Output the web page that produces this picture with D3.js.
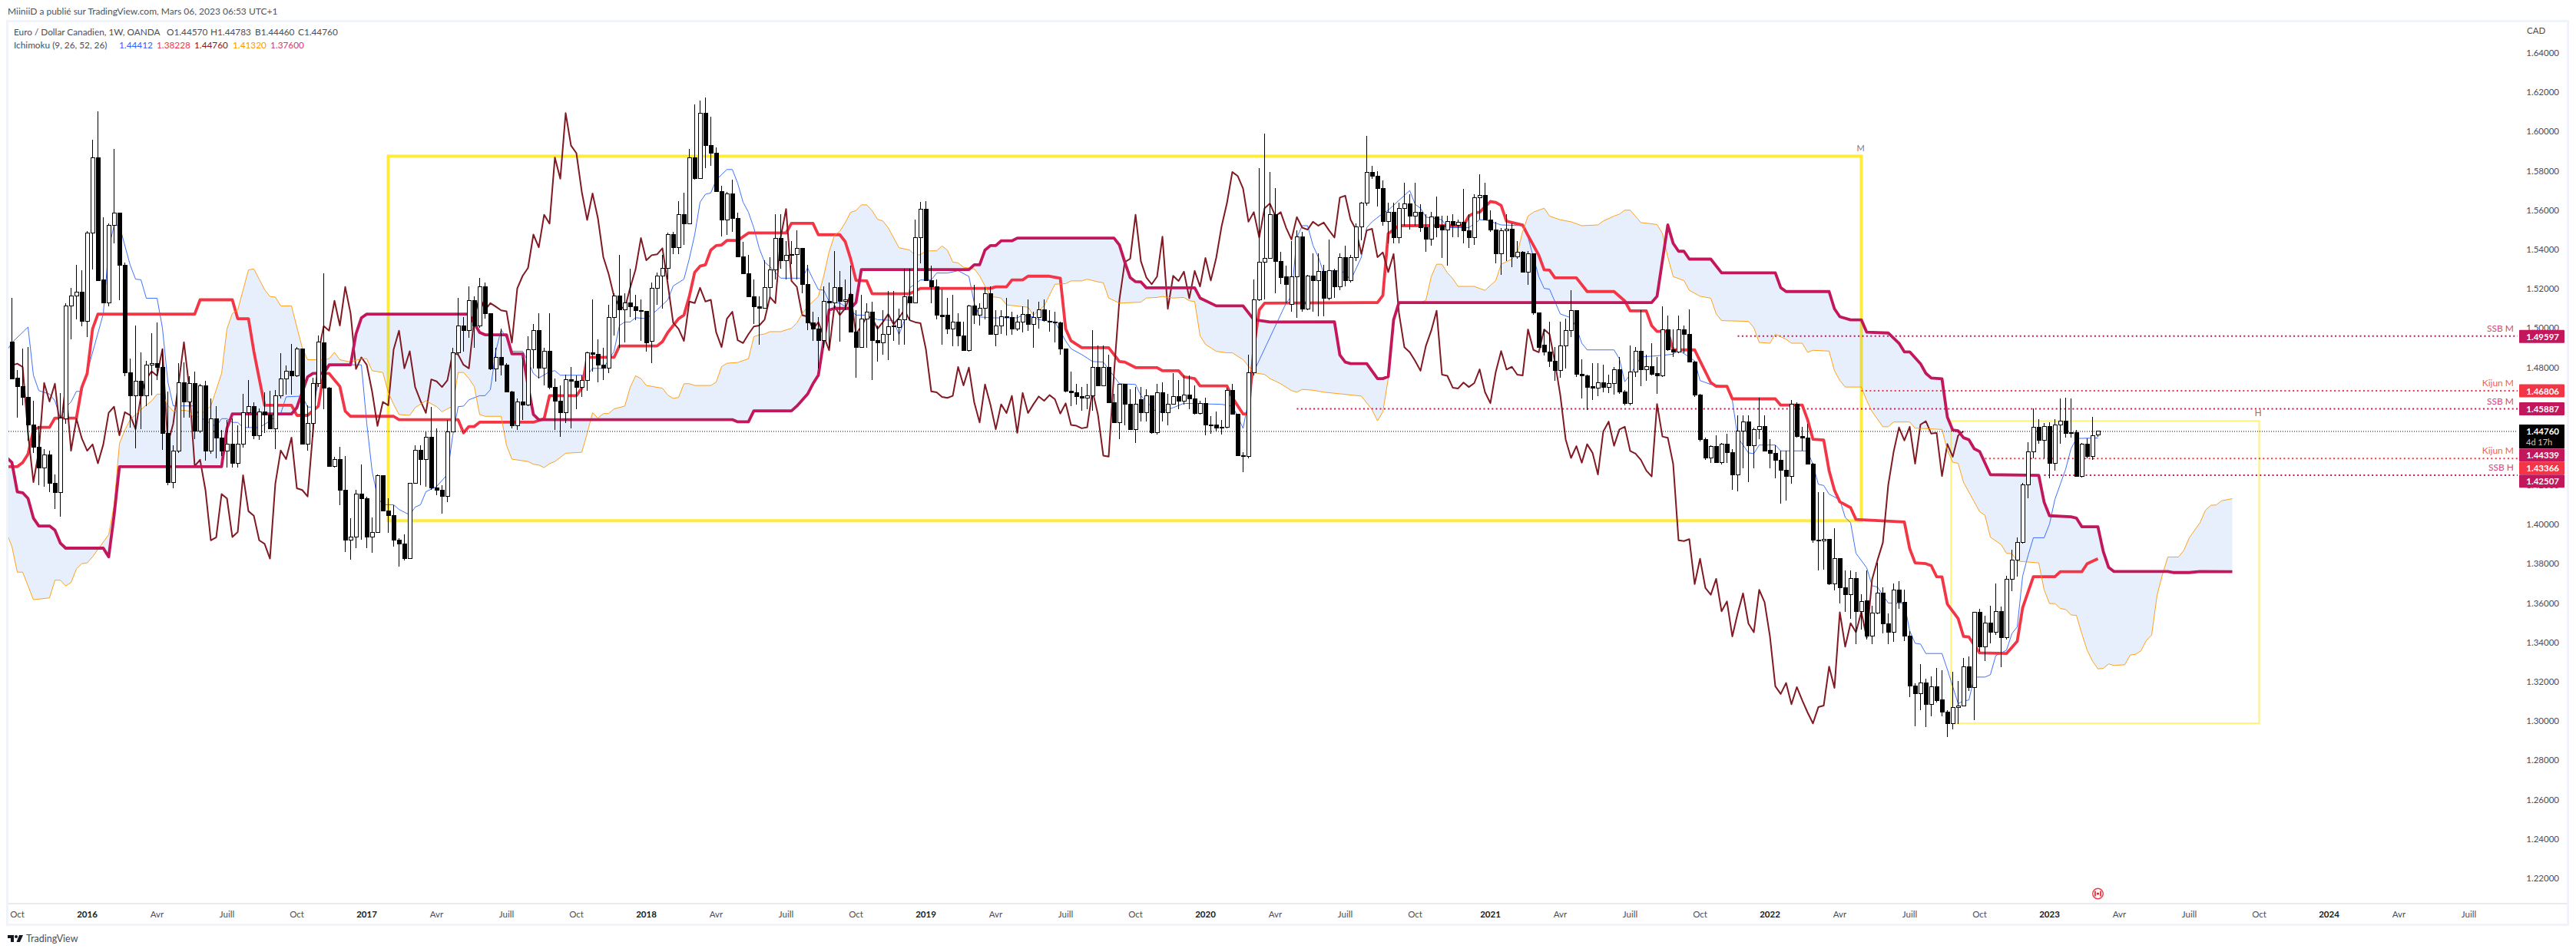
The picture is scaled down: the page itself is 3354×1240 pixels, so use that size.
<!DOCTYPE html>
<html lang="fr">
<head>
<meta charset="utf-8">
<title>EUR/CAD 1W Ichimoku</title>
<script src="https://cdn.jsdelivr.net/npm/d3@7"></script>
<style>
html,body{margin:0;padding:0;background:#fff;overflow:hidden}
svg{display:block}
text{font-family:Lato,"Open Sans",sans-serif}
</style>
</head>
<body>
<div id="chart"></div>
<script>
const opens=[1.4930,1.4745,1.4702,1.4647,1.4506,1.4394,1.4290,1.4354,1.4211,1.4162,
1.4539,1.5112,1.5163,1.5184,1.5033,1.5483,1.5867,1.5245,1.5130,1.5522,
1.5586,1.5318,1.4771,1.4654,1.4728,1.4654,1.4810,1.4819,1.4802,1.4464,
1.4216,1.4374,1.4721,1.4626,1.4717,1.4474,1.4707,1.4376,1.4538,1.4441,
1.4376,1.4408,1.4312,1.4408,1.4569,1.4600,1.4454,1.4572,1.4556,1.4486,
1.4654,1.4741,1.4780,1.4757,1.4893,1.4411,1.4513,1.4717,1.4926,1.4694,
1.4298,1.4330,1.4176,1.3920,1.3935,1.4155,1.4133,1.3937,1.3962,1.4251,
1.4068,1.4045,1.3920,1.3902,1.3827,1.4209,1.4377,1.4333,1.4443,1.4185,
1.4176,1.4143,1.4473,1.4874,1.5010,1.4987,1.5139,1.5013,1.5209,1.5074,
1.4792,1.4851,1.4813,1.4677,1.4502,1.4624,1.4607,1.4891,1.4987,1.4795,
1.4882,1.4700,1.4630,1.4568,1.4739,1.4729,1.4700,1.4734,1.4874,1.4865,
1.4813,1.4795,1.5053,1.5162,1.5092,1.5127,1.5109,1.5090,1.5085,1.4931,
1.5202,1.5266,1.5306,1.5476,1.5411,1.5577,1.5532,1.5868,1.5760,1.6094,
1.5929,1.5890,1.5693,1.5550,1.5685,1.5559,1.5362,1.5275,1.5161,1.5109,
1.5100,1.5205,1.5298,1.5458,1.5345,1.5371,1.5375,1.5406,1.5224,1.5027,
1.4996,1.4935,1.5135,1.5127,1.5205,1.5135,1.5170,1.4978,1.4903,1.5048,
1.5083,1.4938,1.4924,1.4969,1.5008,1.5005,1.5043,1.5158,1.5127,1.5462,
1.5606,1.5240,1.5210,1.5066,1.5066,1.4995,1.5030,1.4960,1.4887,1.5113,
1.5066,1.5100,1.5175,1.4970,1.5010,1.5057,1.5053,1.4996,1.5030,1.5071,
1.5019,1.5053,1.5092,1.5036,1.5030,1.5025,1.4893,1.4678,1.4673,1.4650,
1.4645,1.4655,1.4802,1.4708,1.4799,1.4621,1.4520,1.4713,1.4612,1.4485,
1.4635,1.4568,1.4655,1.4467,1.4670,1.4568,1.4612,1.4652,1.4630,1.4659,
1.4638,1.4565,1.4617,1.4507,1.4507,1.4490,1.4495,1.4682,1.4560,1.4351,
1.4346,1.4773,1.5144,1.5336,1.5353,1.5577,1.5340,1.5262,1.5122,1.5262,
1.5465,1.5098,1.5266,1.5240,1.5287,1.5152,1.5291,1.5212,1.5357,1.5242,
1.5357,1.5517,1.5636,1.5794,1.5774,1.5710,1.5541,1.5590,1.5461,1.5610,
1.5634,1.5570,1.5590,1.5511,1.5451,1.5565,1.5521,1.5501,1.5541,1.5521,
1.5537,1.5497,1.5461,1.5664,1.5674,1.5551,1.5501,1.5377,1.5497,1.5505,
1.5361,1.5385,1.5285,1.5377,1.5076,1.4913,1.4877,1.4833,1.4783,1.4909,
1.4987,1.5088,1.4763,1.4757,1.4703,1.4693,1.4723,1.4700,1.4720,1.4790,
1.4674,1.4618,1.4777,1.4883,1.4789,1.4803,1.4767,1.4759,1.4993,1.4889,
1.4877,1.4993,1.4969,1.4827,1.4660,1.4434,1.4339,1.4399,1.4315,1.4409,
1.4365,1.4255,1.4474,1.4524,1.4401,1.4484,1.4498,1.4379,1.4361,1.4329,
1.4275,1.4245,1.4614,1.4448,1.4442,1.4309,1.3920,1.3916,1.3926,1.3700,
1.3826,1.3677,1.3643,1.3724,1.3559,1.3612,1.3431,1.3549,1.3650,1.3496,
1.3452,1.3668,1.3605,1.3431,1.3177,1.3138,1.3194,1.3086,1.3173,1.3107,
1.3044,1.2988,1.3071,1.3079,1.3277,1.3169,1.3554,1.3379,1.3498,1.3452,
1.3556,1.3424,1.3721,1.3819,1.3908,1.4201,1.4370,1.4494,1.4428,1.4498,
1.4310,1.4509,1.4526,1.4463,1.4467,1.4247,1.4410,1.4345,1.4457];

const highs=[1.5155,1.4786,1.4897,1.4904,1.4630,1.4500,1.4385,1.4376,1.4254,1.4670,
1.5128,1.5203,1.5320,1.5293,1.5492,1.5957,1.6103,1.5565,1.5531,1.5913,
1.5586,1.5333,1.4844,1.5014,1.4878,1.4835,1.4975,1.5027,1.4897,1.4678,
1.4403,1.4822,1.4826,1.4757,1.4780,1.4717,1.4731,1.4641,1.4604,1.4483,
1.4533,1.4540,1.4507,1.4667,1.4734,1.4624,1.4591,1.4672,1.4682,1.4685,
1.4871,1.4809,1.4921,1.4904,1.4893,1.4608,1.4747,1.4962,1.5280,1.4700,
1.4345,1.4394,1.4350,1.4031,1.4176,1.4307,1.4141,1.4037,1.4255,1.4251,
1.4133,1.4098,1.3932,1.3949,1.4209,1.4403,1.4403,1.4473,1.4600,1.4490,
1.4202,1.4534,1.4900,1.5153,1.5057,1.5214,1.5161,1.5257,1.5231,1.5074,
1.4900,1.4996,1.4821,1.4682,1.4642,1.4847,1.4957,1.5022,1.5075,1.4900,
1.5075,1.4743,1.4708,1.4764,1.4804,1.4760,1.4760,1.4882,1.5144,1.4943,
1.4900,1.5118,1.5179,1.5371,1.5179,1.5301,1.5170,1.5144,1.5085,1.5231,
1.5284,1.5371,1.5485,1.5490,1.5646,1.5688,1.5912,1.6138,1.6156,1.6173,
1.6077,1.5920,1.5723,1.5693,1.5754,1.5589,1.5440,1.5371,1.5249,1.5161,
1.5345,1.5362,1.5580,1.5580,1.5441,1.5441,1.5497,1.5406,1.5322,1.5083,
1.5057,1.5214,1.5231,1.5392,1.5292,1.5249,1.5319,1.5092,1.5170,1.5127,
1.5135,1.5013,1.5092,1.5188,1.5188,1.5100,1.5301,1.5301,1.5554,1.5641,
1.5645,1.5319,1.5249,1.5197,1.5153,1.5170,1.5074,1.5031,1.5118,1.5219,
1.5127,1.5210,1.5214,1.5092,1.5092,1.5153,1.5083,1.5066,1.5109,1.5144,
1.5083,1.5135,1.5144,1.5092,1.5083,1.5031,1.4893,1.4777,1.4717,1.4700,
1.4717,1.4990,1.4912,1.4912,1.4865,1.4664,1.4717,1.4717,1.4690,1.4700,
1.4700,1.4690,1.4655,1.4717,1.4725,1.4664,1.4769,1.4734,1.4760,1.4760,
1.4708,1.4630,1.4647,1.4551,1.4577,1.4534,1.4698,1.4717,1.4560,1.4368,
1.4865,1.5249,1.5815,1.5989,1.5793,1.5711,1.5388,1.5319,1.5441,1.5496,
1.5491,1.5271,1.5381,1.5381,1.5321,1.5451,1.5301,1.5381,1.5421,1.5371,
1.5531,1.5644,1.5979,1.5824,1.5800,1.5750,1.5640,1.5640,1.5640,1.5740,
1.5680,1.5740,1.5630,1.5581,1.5590,1.5670,1.5570,1.5570,1.5581,1.5551,
1.5710,1.5581,1.5680,1.5784,1.5740,1.5600,1.5541,1.5511,1.5581,1.5531,
1.5441,1.5391,1.5391,1.5377,1.5076,1.4992,1.5032,1.4903,1.5032,1.5048,
1.5192,1.5092,1.4843,1.4763,1.4823,1.4823,1.4813,1.4763,1.4803,1.4853,
1.4684,1.4913,1.4903,1.5092,1.4863,1.4923,1.4853,1.5112,1.5062,1.4993,
1.5062,1.5012,1.5096,1.4833,1.4664,1.4444,1.4405,1.4454,1.4415,1.4464,
1.4385,1.4554,1.4554,1.4554,1.4494,1.4644,1.4554,1.4435,1.4405,1.4375,
1.4375,1.4634,1.4624,1.4498,1.4514,1.4315,1.4165,1.4165,1.3926,1.3982,
1.3830,1.3766,1.3766,1.3759,1.3647,1.3766,1.3587,1.3807,1.3682,1.3549,
1.3699,1.3713,1.3668,1.3459,1.3194,1.3291,1.3215,1.3229,1.3271,1.3257,
1.3054,1.3250,1.3204,1.3323,1.3331,1.3554,1.3570,1.3535,1.3587,1.3699,
1.3584,1.3738,1.3874,1.3933,1.4212,1.4418,1.4593,1.4536,1.4516,1.4519,
1.4536,1.4640,1.4645,1.4642,1.4481,1.4414,1.4438,1.4550,1.44783];

const lows=[1.4743,1.4546,1.4607,1.4428,1.4363,1.4202,1.4194,1.4167,1.4080,1.4042,
1.4513,1.4943,1.5044,1.5008,1.4954,1.5298,1.5243,1.5128,1.5111,1.5431,
1.5142,1.4754,1.4494,1.4389,1.4487,1.4604,1.4656,1.4734,1.4380,1.4202,
1.4185,1.4363,1.4546,1.4546,1.4435,1.4467,1.4324,1.4361,1.4337,1.4350,
1.4290,1.4290,1.4290,1.4392,1.4494,1.4435,1.4431,1.4467,1.4486,1.4383,
1.4643,1.4663,1.4663,1.4750,1.4411,1.4376,1.4447,1.4702,1.4586,1.4298,
1.4290,1.4098,1.3862,1.3822,1.3880,1.3923,1.3880,1.3857,1.3958,1.4068,
1.3958,1.3888,1.3787,1.3819,1.3827,1.4209,1.4202,1.4194,1.4176,1.4150,
1.4054,1.4115,1.4473,1.4865,1.4882,1.4952,1.4900,1.5000,1.5048,1.4786,
1.4729,1.4760,1.4673,1.4490,1.4481,1.4534,1.4603,1.4795,1.4743,1.4708,
1.4690,1.4481,1.4446,1.4516,1.4490,1.4586,1.4650,1.4682,1.4778,1.4725,
1.4734,1.4769,1.4961,1.4900,1.4926,1.5057,1.5040,1.4935,1.4880,1.4821,
1.5118,1.5100,1.5249,1.5378,1.5378,1.5423,1.5528,1.5754,1.5760,1.5815,
1.5824,1.5693,1.5467,1.5476,1.5489,1.5362,1.5274,1.5161,1.5022,1.4917,
1.5100,1.5157,1.5249,1.5301,1.5249,1.5327,1.5249,1.5179,1.4990,1.4935,
1.4795,1.4900,1.4900,1.5100,1.4930,1.5092,1.4978,1.4748,1.4900,1.4900,
1.4734,1.4830,1.4865,1.4839,1.4935,1.4917,1.4917,1.5040,1.5127,1.5328,
1.5240,1.5127,1.5043,1.4917,1.4970,1.4909,1.4908,1.4887,1.4882,1.5022,
1.5013,1.5043,1.4970,1.4909,1.4970,1.4961,1.4965,1.4985,1.4978,1.4987,
1.4900,1.4996,1.5031,1.4980,1.4926,1.4865,1.4673,1.4604,1.4612,1.4578,
1.4586,1.4578,1.4708,1.4708,1.4621,1.4516,1.4434,1.4507,1.4481,1.4415,
1.4525,1.4525,1.4464,1.4460,1.4525,1.4507,1.4612,1.4586,1.4612,1.4586,
1.4560,1.4560,1.4455,1.4464,1.4472,1.4460,1.4490,1.4560,1.4351,1.4267,
1.4338,1.4760,1.5140,1.5144,1.5353,1.5179,1.5223,1.5127,1.5082,1.5052,
1.5082,1.5092,1.5082,1.5058,1.5058,1.5142,1.5152,1.5192,1.5212,1.5232,
1.5341,1.5448,1.5624,1.5760,1.5620,1.5520,1.5431,1.5431,1.5431,1.5521,
1.5501,1.5521,1.5491,1.5387,1.5421,1.5461,1.5357,1.5317,1.5461,1.5461,
1.5431,1.5407,1.5425,1.5551,1.5551,1.5491,1.5331,1.5271,1.5341,1.5311,
1.5351,1.5281,1.5221,1.5068,1.4900,1.4859,1.4803,1.4733,1.4747,1.4793,
1.4953,1.4753,1.4643,1.4584,1.4634,1.4653,1.4674,1.4668,1.4660,1.4664,
1.4608,1.4608,1.4753,1.4703,1.4733,1.4759,1.4664,1.4753,1.4883,1.4853,
1.4873,1.4873,1.4827,1.4648,1.4425,1.4329,1.4315,1.4315,1.4305,1.4315,
1.4175,1.4169,1.4285,1.4215,1.4285,1.4435,1.4375,1.4285,1.4235,1.4106,
1.4122,1.4209,1.4444,1.4375,1.4305,1.3906,1.3767,1.3770,1.3693,1.3667,
1.3597,1.3556,1.3522,1.3392,1.3466,1.3417,1.3392,1.3545,1.3445,1.3392,
1.3403,1.3570,1.3406,1.3124,1.2973,1.3054,1.2970,1.3026,1.3096,1.3026,
1.2917,1.2957,1.2985,1.3075,1.3152,1.3005,1.3351,1.3307,1.3395,1.3438,
1.3275,1.3414,1.3661,1.3735,1.3905,1.4135,1.4338,1.4412,1.4338,1.4237,
1.4275,1.4410,1.4442,1.4442,1.4244,1.4240,1.4338,1.4328,1.4446];

const closes=[1.4743,1.4702,1.4646,1.4506,1.4393,1.4290,1.4354,1.4211,1.4162,1.4542,
1.5112,1.5163,1.5182,1.5033,1.5483,1.5866,1.5243,1.5130,1.5522,1.5585,
1.5318,1.4771,1.4654,1.4728,1.4654,1.4810,1.4819,1.4802,1.4464,1.4216,
1.4374,1.4721,1.4626,1.4717,1.4474,1.4707,1.4376,1.4538,1.4439,1.4376,
1.4408,1.4312,1.4408,1.4569,1.4600,1.4454,1.4572,1.4556,1.4486,1.4654,
1.4741,1.4780,1.4757,1.4893,1.4411,1.4513,1.4717,1.4928,1.4694,1.4298,
1.4330,1.4176,1.3920,1.3935,1.4155,1.4133,1.3937,1.3962,1.4251,1.4068,
1.4045,1.3920,1.3902,1.3827,1.4209,1.4377,1.4333,1.4443,1.4185,1.4176,
1.4143,1.4473,1.4874,1.5010,1.4987,1.5139,1.5013,1.5209,1.5074,1.4792,
1.4851,1.4813,1.4677,1.4502,1.4624,1.4607,1.4891,1.4987,1.4795,1.4882,
1.4700,1.4630,1.4568,1.4739,1.4729,1.4700,1.4734,1.4874,1.4865,1.4813,
1.4795,1.5053,1.5162,1.5092,1.5127,1.5109,1.5090,1.5085,1.4926,1.5202,
1.5266,1.5306,1.5476,1.5411,1.5577,1.5532,1.5868,1.5760,1.6094,1.5929,
1.5890,1.5693,1.5550,1.5685,1.5559,1.5362,1.5275,1.5161,1.5109,1.5100,
1.5205,1.5298,1.5458,1.5345,1.5371,1.5375,1.5406,1.5224,1.5027,1.4996,
1.4935,1.5135,1.5127,1.5205,1.5135,1.5144,1.4978,1.4903,1.5048,1.5083,
1.4938,1.4924,1.4969,1.5008,1.5013,1.5043,1.5158,1.5127,1.5462,1.5606,
1.5240,1.5210,1.5066,1.5058,1.4995,1.5030,1.4960,1.4887,1.5113,1.5066,
1.5100,1.5175,1.4970,1.5010,1.5057,1.5053,1.4996,1.5030,1.5071,1.5019,
1.5053,1.5092,1.5040,1.5030,1.5025,1.4893,1.4678,1.4673,1.4650,1.4645,
1.4655,1.4802,1.4708,1.4799,1.4621,1.4520,1.4713,1.4612,1.4485,1.4612,
1.4568,1.4655,1.4467,1.4670,1.4568,1.4612,1.4652,1.4630,1.4659,1.4638,
1.4565,1.4617,1.4507,1.4503,1.4490,1.4495,1.4682,1.4560,1.4351,1.4346,
1.4773,1.5144,1.5336,1.5353,1.5577,1.5340,1.5258,1.5223,1.5262,1.5465,
1.5098,1.5266,1.5240,1.5287,1.5152,1.5291,1.5212,1.5357,1.5242,1.5357,
1.5517,1.5636,1.5794,1.5774,1.5710,1.5541,1.5590,1.5461,1.5610,1.5634,
1.5570,1.5590,1.5511,1.5451,1.5565,1.5511,1.5501,1.5541,1.5521,1.5537,
1.5497,1.5461,1.5664,1.5674,1.5551,1.5501,1.5377,1.5497,1.5505,1.5361,
1.5385,1.5285,1.5377,1.5076,1.4903,1.4877,1.4833,1.4783,1.4909,1.4987,
1.5088,1.4763,1.4757,1.4697,1.4693,1.4723,1.4700,1.4720,1.4790,1.4674,
1.4618,1.4777,1.4883,1.4789,1.4803,1.4763,1.4759,1.4993,1.4889,1.4877,
1.4993,1.4969,1.4827,1.4660,1.4434,1.4339,1.4399,1.4315,1.4409,1.4365,
1.4255,1.4474,1.4524,1.4401,1.4484,1.4498,1.4375,1.4361,1.4329,1.4275,
1.4245,1.4614,1.4448,1.4442,1.4309,1.3920,1.3916,1.3926,1.3697,1.3826,
1.3677,1.3643,1.3724,1.3559,1.3609,1.3431,1.3549,1.3650,1.3496,1.3452,
1.3668,1.3605,1.3431,1.3177,1.3138,1.3194,1.3086,1.3173,1.3106,1.3044,
1.2988,1.3071,1.3079,1.3277,1.3169,1.3554,1.3379,1.3498,1.3452,1.3556,
1.3424,1.3721,1.3819,1.3908,1.4201,1.4370,1.4494,1.4428,1.4498,1.4310,
1.4509,1.4526,1.4463,1.4467,1.4247,1.4410,1.4345,1.4453,1.4476];

// Chikou line, one value per bar starting at bar 0
const chikou=[1.4810,1.4819,1.4802,1.4464,1.4216,
1.4374,1.4721,1.4626,1.4717,1.4474,1.4707,1.4376,1.4538,1.4439,1.4376,
1.4408,1.4312,1.4408,1.4569,1.4600,1.4454,1.4572,1.4556,1.4486,1.4654,
1.4741,1.4780,1.4757,1.4893,1.4411,1.4513,1.4717,1.4928,1.4694,1.4298,
1.4330,1.4176,1.3920,1.3935,1.4155,1.4133,1.3937,1.3962,1.4251,1.4068,
1.4045,1.3920,1.3902,1.3827,1.4209,1.4377,1.4333,1.4443,1.4185,1.4176,
1.4143,1.4473,1.4874,1.5010,1.4987,1.5139,1.5013,1.5209,1.5074,1.4792,
1.4851,1.4813,1.4677,1.4502,1.4624,1.4607,1.4891,1.4987,1.4795,1.4882,
1.4700,1.4630,1.4568,1.4739,1.4729,1.4700,1.4734,1.4874,1.4865,1.4813,
1.4795,1.5053,1.5162,1.5092,1.5127,1.5109,1.5090,1.5085,1.4926,1.5202,
1.5266,1.5306,1.5476,1.5411,1.5577,1.5532,1.5868,1.5760,1.6094,1.5929,
1.5890,1.5693,1.5550,1.5685,1.5559,1.5362,1.5275,1.5161,1.5109,1.5100,
1.5205,1.5298,1.5458,1.5345,1.5371,1.5375,1.5406,1.5224,1.5027,1.4996,
1.4935,1.5135,1.5127,1.5205,1.5135,1.5144,1.4978,1.4903,1.5048,1.5083,
1.4938,1.4924,1.4969,1.5008,1.5013,1.5043,1.5158,1.5127,1.5462,1.5606,
1.5240,1.5210,1.5066,1.5058,1.4995,1.5030,1.4960,1.4887,1.5113,1.5066,
1.5100,1.5175,1.4970,1.5010,1.5057,1.5053,1.4996,1.5030,1.5071,1.5019,
1.5053,1.5092,1.5040,1.5030,1.5025,1.4893,1.4678,1.4673,1.4650,1.4645,
1.4655,1.4802,1.4708,1.4799,1.4621,1.4520,1.4713,1.4612,1.4485,1.4612,
1.4568,1.4655,1.4467,1.4670,1.4568,1.4612,1.4652,1.4630,1.4659,1.4638,
1.4565,1.4617,1.4507,1.4503,1.4490,1.4495,1.4682,1.4560,1.4351,1.4346,
1.4773,1.5144,1.5336,1.5353,1.5577,1.5340,1.5258,1.5223,1.5262,1.5465,
1.5098,1.5266,1.5240,1.5287,1.5152,1.5291,1.5212,1.5357,1.5242,1.5357,
1.5517,1.5636,1.5794,1.5774,1.5710,1.5541,1.5590,1.5461,1.5610,1.5634,
1.5570,1.5590,1.5511,1.5451,1.5565,1.5511,1.5501,1.5541,1.5521,1.5537,
1.5497,1.5461,1.5664,1.5674,1.5551,1.5501,1.5377,1.5497,1.5505,1.5361,
1.5385,1.5285,1.5377,1.5076,1.4903,1.4877,1.4833,1.4783,1.4909,1.4987,
1.5088,1.4763,1.4757,1.4697,1.4693,1.4723,1.4700,1.4720,1.4790,1.4674,
1.4618,1.4777,1.4883,1.4789,1.4803,1.4763,1.4759,1.4993,1.4889,1.4877,
1.4993,1.4969,1.4827,1.4660,1.4434,1.4339,1.4399,1.4315,1.4409,1.4365,
1.4255,1.4474,1.4524,1.4401,1.4484,1.4498,1.4375,1.4361,1.4329,1.4275,
1.4245,1.4614,1.4448,1.4442,1.4309,1.3920,1.3916,1.3926,1.3697,1.3826,
1.3677,1.3643,1.3724,1.3559,1.3609,1.3431,1.3549,1.3650,1.3496,1.3452,
1.3668,1.3605,1.3431,1.3177,1.3138,1.3194,1.3086,1.3173,1.3106,1.3044,
1.2988,1.3071,1.3079,1.3277,1.3169,1.3554,1.3379,1.3498,1.3452,1.3556,
1.3424,1.3721,1.3819,1.3908,1.4201,1.4370,1.4494,1.4428,1.4498,1.4310,
1.4509,1.4526,1.4463,1.4467,1.4247,1.4410,1.4345,1.4453,1.4476];

// Line vertices: [bar, price]
const tenkan=[[-1,1.4882],[0,1.4926],[3,1.5005],[4,1.4760],[5,1.4682],[7,1.4664],[8,1.4630],[9,1.4542],[10,1.4598],[11,1.4624],[12,1.4678],[13,1.4678],[17,1.5073],[18,1.5405],[19,1.5522],[20,1.5522],[22,1.5320],[23,1.5249],[24,1.5246],[25,1.5152],[27,1.5152],[28,1.5000],[29,1.4728],[30,1.4604],[34,1.4604],[35,1.4546],[37,1.4513],[38,1.4500],[39,1.4539],[40,1.4539],[41,1.4520],[42,1.4520],[43,1.4494],[46,1.4494],[47,1.4510],[50,1.4565],[51,1.4650],[54,1.4654],[55,1.4598],[56,1.4598],[57,1.4725],[58,1.4804],[62,1.4813],[65,1.4813],[66,1.4516],[67,1.4272],[68,1.4141],[69,1.4101],[71,1.4101],[72,1.4077],[74,1.4049],[75,1.4089],[76,1.4101],[77,1.4167],[79,1.4194],[81,1.4255],[82,1.4455],[83,1.4600],[84,1.4603],[85,1.4635],[87,1.4656],[88,1.4656],[89,1.4687],[90,1.4882],[91,1.4992],[92,1.4949],[93,1.4882],[95,1.4882],[96,1.4830],[97,1.4769],[98,1.4746],[100,1.4778],[101,1.4783],[102,1.4760],[107,1.4760],[108,1.4795],[110,1.4795],[112,1.4882],[113,1.5013],[114,1.5031],[115,1.5031],[116,1.5053],[118,1.5048],[120,1.5092],[122,1.5144],[123,1.5214],[125,1.5249],[126,1.5353],[127,1.5475],[128,1.5641],[129,1.5681],[130,1.5688],[131,1.5754],[132,1.5781],[133,1.5807],[134,1.5807],[135,1.5737],[136,1.5641],[137,1.5589],[138,1.5510],[139,1.5406],[140,1.5336],[141,1.5313],[143,1.5254],[147,1.5254],[148,1.5306],[149,1.5249],[150,1.5196],[151,1.5193],[152,1.5135],[154,1.5127],[156,1.5092],[157,1.5066],[159,1.5066],[160,1.5052],[161,1.5043],[164,1.5039],[165,1.4966],[166,1.5039],[167,1.5205],[169,1.5245],[171,1.5245],[172,1.5280],[174,1.5280],[176,1.5292],[178,1.5263],[179,1.5127],[180,1.5057],[182,1.5052],[187,1.5052],[188,1.5066],[190,1.5057],[191,1.5043],[194,1.5031],[196,1.4935],[197,1.4895],[199,1.4865],[201,1.4830],[203,1.4827],[206,1.4717],[209,1.4713],[210,1.4656],[213,1.4569],[216,1.4595],[218,1.4617],[225,1.4612],[227,1.4603],[228,1.4551],[229,1.4490],[230,1.4630],[231,1.4778],[237,1.5127],[238,1.5161],[239,1.5461],[240,1.5521],[241,1.5521],[242,1.5421],[243,1.5361],[244,1.5281],[245,1.5291],[247,1.5291],[248,1.5281],[249,1.5242],[251,1.5361],[252,1.5511],[253,1.5541],[255,1.5584],[256,1.5600],[258,1.5650],[260,1.5700],[261,1.5630],[262,1.5610],[263,1.5565],[266,1.5551],[267,1.5511],[271,1.5511],[273,1.5551],[274,1.5551],[277,1.5525],[281,1.5521],[282,1.5461],[284,1.5262],[285,1.5202],[286,1.5198],[288,1.5072],[290,1.5052],[291,1.5002],[292,1.4923],[293,1.4889],[298,1.4889],[299,1.4843],[300,1.4727],[301,1.4763],[303,1.4853],[306,1.4859],[309,1.4867],[310,1.4889],[313,1.4833],[314,1.4733],[316,1.4713],[319,1.4704],[320,1.4634],[321,1.4444],[323,1.4365],[324,1.4361],[325,1.4405],[328,1.4405],[329,1.4375],[334,1.4375],[335,1.4305],[336,1.4205],[337,1.4199],[338,1.4155],[340,1.4126],[341,1.4036],[342,1.4010],[343,1.3854],[345,1.3780],[346,1.3689],[347,1.3682],[349,1.3601],[352,1.3598],[353,1.3459],[354,1.3396],[355,1.3392],[356,1.3344],[359,1.3344],[360,1.3263],[362,1.3089],[363,1.3103],[364,1.3107],[365,1.3224],[367,1.3224],[368,1.3236],[369,1.3333],[371,1.3361],[372,1.3445],[373,1.3480],[374,1.3738],[375,1.3842],[376,1.3933],[378,1.3933],[379,1.4003],[380,1.4128],[381,1.4205],[382,1.4282],[383,1.4386],[384,1.4438],[388,1.4441]];

const kijun=[[-1,1.4295],[1,1.4295],[2,1.4316],[3,1.4359],[4,1.4481],[5,1.4495],[7,1.4495],[8,1.4542],[12,1.4542],[13,1.4699],[14,1.4769],[15,1.4996],[16,1.5071],[34,1.5071],[35,1.5144],[41,1.5144],[42,1.5048],[44,1.5048],[45,1.4882],[46,1.4743],[47,1.4607],[52,1.4607],[53,1.4556],[55,1.4556],[57,1.4603],[58,1.4769],[59,1.4769],[61,1.4703],[62,1.4577],[63,1.4551],[71,1.4551],[72,1.4534],[83,1.4534],[84,1.4467],[85,1.4499],[86,1.4499],[87,1.4521],[97,1.4521],[99,1.4539],[100,1.4656],[105,1.4656],[106,1.4694],[107,1.4851],[112,1.4851],[113,1.4909],[120,1.4909],[121,1.4931],[122,1.4978],[124,1.5048],[125,1.5066],[126,1.5161],[127,1.5284],[128,1.5315],[129,1.5322],[130,1.5397],[131,1.5420],[132,1.5423],[133,1.5446],[135,1.5446],[137,1.5484],[144,1.5484],[145,1.5533],[149,1.5533],[150,1.5475],[154,1.5475],[155,1.5440],[156,1.5353],[157,1.5243],[159,1.5240],[160,1.5175],[167,1.5175],[169,1.5202],[182,1.5202],[183,1.5210],[185,1.5210],[186,1.5245],[188,1.5245],[189,1.5264],[193,1.5264],[195,1.5254],[196,1.4996],[197,1.4935],[199,1.4900],[204,1.4900],[206,1.4830],[207,1.4827],[209,1.4799],[213,1.4799],[214,1.4783],[217,1.4783],[218,1.4752],[220,1.4743],[221,1.4706],[226,1.4706],[227,1.4647],[229,1.4563],[230,1.4563],[231,1.4900],[232,1.5092],[233,1.5127],[254,1.5130],[255,1.5166],[256,1.5481],[258,1.5521],[270,1.5521],[271,1.5570],[272,1.5586],[273,1.5590],[275,1.5644],[276,1.5640],[277,1.5624],[278,1.5544],[281,1.5524],[282,1.5471],[284,1.5371],[285,1.5297],[286,1.5295],[287,1.5256],[291,1.5256],[293,1.5186],[298,1.5186],[300,1.5138],[301,1.5088],[304,1.5088],[305,1.5012],[306,1.4983],[308,1.4983],[309,1.4889],[313,1.4889],[314,1.4833],[316,1.4723],[317,1.4704],[319,1.4704],[320,1.4640],[328,1.4640],[329,1.4608],[333,1.4608],[334,1.4534],[335,1.4434],[337,1.4430],[338,1.4275],[339,1.4175],[340,1.4116],[342,1.4086],[343,1.4026],[352,1.4013],[353,1.3877],[354,1.3805],[356,1.3801],[357,1.3791],[358,1.3735],[359,1.3734],[360,1.3595],[362,1.3522],[363,1.3431],[364,1.3428],[366,1.3347],[371,1.3344],[373,1.3406],[374,1.3577],[376,1.3735],[380,1.3735],[381,1.3760],[385,1.3760],[386,1.3801],[388,1.3826]];

const spanA=[[-1,1.3958],[0,1.3888],[1,1.3758],[2,1.3758],[4,1.3618],[7,1.3627],[8,1.3717],[9,1.3717],[10,1.3688],[11,1.3705],[12,1.3775],[13,1.3801],[14,1.3805],[15,1.3836],[16,1.3874],[18,1.3949],[19,1.4098],[20,1.4412],[21,1.4481],[22,1.4534],[23,1.4560],[24,1.4586],[26,1.4630],[27,1.4664],[28,1.4664],[29,1.4607],[30,1.4577],[32,1.4582],[33,1.4577],[34,1.4534],[35,1.4560],[37,1.4603],[39,1.4769],[40,1.4996],[41,1.5074],[42,1.5092],[44,1.5296],[45,1.5301],[47,1.5196],[48,1.5161],[49,1.5158],[50,1.5113],[52,1.5113],[53,1.5005],[54,1.4900],[55,1.4839],[58,1.4839],[59,1.4844],[60,1.4877],[61,1.4839],[63,1.4827],[65,1.4844],[66,1.4844],[67,1.4783],[69,1.4774],[70,1.4673],[71,1.4612],[72,1.4560],[74,1.4556],[75,1.4595],[77,1.4630],[79,1.4600],[80,1.4574],[81,1.4589],[82,1.4603],[83,1.4774],[84,1.4774],[85,1.4743],[86,1.4703],[87,1.4560],[88,1.4551],[91,1.4551],[92,1.4403],[93,1.4333],[96,1.4321],[97,1.4307],[98,1.4303],[99,1.4290],[100,1.4310],[101,1.4321],[103,1.4363],[106,1.4368],[107,1.4464],[108,1.4569],[109,1.4542],[110,1.4565],[111,1.4565],[112,1.4589],[114,1.4603],[115,1.4699],[116,1.4757],[117,1.4743],[118,1.4708],[121,1.4694],[122,1.4659],[123,1.4642],[124,1.4647],[125,1.4717],[126,1.4717],[127,1.4708],[130,1.4708],[131,1.4725],[132,1.4804],[133,1.4821],[135,1.4825],[137,1.4844],[138,1.4956],[139,1.4966],[140,1.4970],[141,1.4982],[143,1.4982],[145,1.4999],[146,1.5026],[147,1.5074],[148,1.5109],[150,1.5161],[151,1.5266],[152,1.5388],[153,1.5472],[154,1.5493],[155,1.5536],[156,1.5589],[157,1.5598],[158,1.5627],[159,1.5627],[160,1.5598],[161,1.5554],[162,1.5545],[163,1.5510],[165,1.5409],[167,1.5397],[168,1.5371],[169,1.5374],[170,1.5393],[172,1.5393],[173,1.5418],[174,1.5397],[175,1.5336],[176,1.5332],[177,1.5310],[179,1.5301],[180,1.5266],[181,1.5214],[182,1.5161],[184,1.5153],[185,1.5118],[189,1.5106],[190,1.5066],[192,1.5113],[194,1.5223],[196,1.5226],[197,1.5240],[199,1.5240],[200,1.5249],[202,1.5235],[203,1.5231],[204,1.5153],[206,1.5127],[210,1.5132],[211,1.5153],[213,1.5156],[214,1.5161],[216,1.5153],[218,1.5156],[219,1.5139],[220,1.5135],[221,1.4961],[222,1.4917],[224,1.4882],[226,1.4874],[227,1.4874],[229,1.4839],[231,1.4773],[233,1.4764],[234,1.4743],[236,1.4717],[238,1.4682],[239,1.4674],[240,1.4688],[242,1.4684],[244,1.4674],[251,1.4654],[253,1.4584],[254,1.4528],[255,1.4574],[256,1.4743],[257,1.5042],[258,1.5126],[262,1.5130],[263,1.5142],[264,1.5262],[265,1.5325],[266,1.5325],[267,1.5281],[268,1.5252],[269,1.5212],[272,1.5212],[274,1.5192],[276,1.5242],[277,1.5325],[279,1.5351],[280,1.5381],[281,1.5491],[282,1.5570],[283,1.5590],[285,1.5610],[286,1.5570],[288,1.5551],[290,1.5541],[292,1.5521],[295,1.5525],[296,1.5545],[298,1.5570],[299,1.5580],[300,1.5600],[301,1.5600],[303,1.5537],[306,1.5527],[307,1.5481],[308,1.5361],[309,1.5262],[311,1.5242],[312,1.5192],[314,1.5162],[316,1.5152],[317,1.5072],[318,1.5038],[323,1.5034],[324,1.5002],[325,1.4927],[327,1.4923],[328,1.4969],[330,1.4943],[331,1.4923],[333,1.4923],[334,1.4877],[335,1.4887],[338,1.4883],[339,1.4783],[340,1.4733],[341,1.4700],[342,1.4700],[344,1.4700],[345,1.4631],[346,1.4575],[348,1.4498],[349,1.4498],[350,1.4522],[353,1.4522],[354,1.4491],[359,1.4484],[360,1.4379],[361,1.4317],[362,1.4312],[363,1.4215],[366,1.4066],[367,1.4047],[368,1.3936],[370,1.3898],[371,1.3854],[372,1.3852],[373,1.3814],[377,1.3805],[378,1.3668],[379,1.3598],[380,1.3598],[381,1.3573],[382,1.3568],[383,1.3540],[384,1.3538],[385,1.3445],[386,1.3361],[387,1.3305],[388,1.3266],[389,1.3268],[390,1.3291],[391,1.3283],[393,1.3287],[394,1.3336],[395,1.3340],[396,1.3357],[397,1.3410],[398,1.3438],[399,1.3640],[400,1.3745],[401,1.3835],[403,1.3835],[404,1.3870],[405,1.3933],[407,1.4010],[408,1.4073],[409,1.4098],[410,1.4100],[411,1.4121],[413,1.4132]];

const spanB=[[-1,1.4342],[0,1.4316],[1,1.4167],[2,1.4162],[3,1.4133],[4,1.4033],[5,1.3993],[7,1.3993],[8,1.3972],[9,1.3906],[10,1.3880],[17,1.3880],[18,1.3836],[19,1.4045],[20,1.4295],[39,1.4295],[40,1.4490],[41,1.4563],[52,1.4563],[53,1.4595],[55,1.4752],[56,1.4769],[58,1.4769],[59,1.4813],[63,1.4813],[64,1.4970],[65,1.5052],[66,1.5071],[85,1.5071],[87,1.4978],[88,1.4966],[92,1.4966],[93,1.4869],[95,1.4869],[96,1.4708],[97,1.4560],[98,1.4534],[134,1.4534],[135,1.4523],[137,1.4523],[138,1.4579],[145,1.4579],[146,1.4603],[148,1.4664],[149,1.4717],[150,1.4760],[151,1.4935],[152,1.5092],[153,1.5100],[156,1.5100],[157,1.5130],[158,1.5298],[178,1.5298],[179,1.5322],[180,1.5322],[181,1.5397],[182,1.5420],[183,1.5420],[184,1.5444],[186,1.5444],[187,1.5458],[205,1.5458],[206,1.5423],[207,1.5336],[208,1.5257],[209,1.5236],[210,1.5235],[211,1.5205],[220,1.5205],[221,1.5153],[224,1.5113],[229,1.5113],[231,1.5043],[234,1.5031],[246,1.5032],[247,1.4863],[248,1.4827],[249,1.4819],[252,1.4819],[254,1.4743],[255,1.4743],[256,1.4753],[257,1.5042],[258,1.5130],[305,1.5130],[306,1.5162],[308,1.5525],[309,1.5431],[310,1.5391],[311,1.5391],[312,1.5351],[316,1.5351],[318,1.5281],[328,1.5281],[329,1.5206],[330,1.5186],[338,1.5186],[339,1.5098],[340,1.5058],[342,1.5042],[344,1.5042],[345,1.4979],[349,1.4975],[351,1.4923],[352,1.4879],[353,1.4879],[355,1.4819],[356,1.4770],[357,1.4746],[359,1.4742],[360,1.4547],[361,1.4481],[362,1.4477],[363,1.4442],[364,1.4432],[365,1.4386],[366,1.4372],[368,1.4254],[377,1.4251],[378,1.4114],[379,1.4045],[383,1.4040],[384,1.4033],[385,1.3989],[388,1.3989],[389,1.3863],[390,1.3782],[391,1.3761],[401,1.3761],[402,1.3756],[405,1.3756],[407,1.3761],[413,1.3760]];

// Axis content (1.46000 and 1.44000 sit fully behind the price boxes in the reference)
const priceTicks=[1.64,1.62,1.60,1.58,1.56,1.54,1.52,1.50,1.48,1.42,1.40,1.38,1.36,1.34,1.32,1.30,1.28,1.26,1.24,1.22];
const timeTickBars=[1,14,27,40,53,66,79,92,105,118,131,144,157,170,183,196,209,222,235,248,261,275,288,301,314,327,340,353,366,379,392,405,418,431,444,457];
const timeTickLabels=["Oct","2016","Avr","Juill","Oct","2017","Avr","Juill","Oct","2018","Avr","Juill","Oct","2019","Avr","Juill","Oct","2020","Avr","Juill","Oct","2021","Avr","Juill","Oct","2022","Avr","Juill","Oct","2023","Avr","Juill","Oct","2024","Avr","Juill"];

// Price levels drawn as dotted lines: start bar, price, label, colour key
const levelStart=[321,344,239,367,378];
const levelPrice=[1.49597,1.46806,1.45887,1.43366,1.42507];
const levelName=["SSB M","Kijun M","SSB M","Kijun M","SSB H"];
const levelKind=["b","k","b","k","b"];

// Price-box stack next to the axis
const boxValues=["1.49597","1.46806","1.45887","1.44339","1.43366","1.42507"];
const boxPrices=[1.4957,1.46806,1.45887,1.4354,1.4287,1.4221];
const boxKinds=["b","k","b","b","k","b"];

const legend1=[["Euro / Dollar Canadien, 1W, OANDA",18],["O1.44570",217],["H1.44783",274],["B1.44460",332],["C1.44760",388]];
const legend2=[["Ichimoku (9, 26, 52, 26)",18,"#4a4d57"],["1.44412",155,"#2962ff"],["1.38228",204,"#f23645"],["1.44760",253,"#801922"],["1.41320",303,"#ff9800"],["1.37600",352,"#d23a72"]];

const C={b:"#c2185b",k:"#f23645"};
const W=3354,H=1240;
const x=d3.scaleLinear().domain([0,457]).range([15.5,3214.5]);
const y=d3.scaleLinear().domain([1.22,1.64]).range([1144,69]);

const svg=d3.select("#chart").append("svg").attr("width",W).attr("height",H).attr("viewBox",`0 0 ${W} ${H}`);
const defs=svg.append("defs");
defs.append("clipPath").attr("id","plot").append("rect").attr("x",11).attr("y",29).attr("width",3269).attr("height",1148);

// Header
svg.append("text").attr("x",10).attr("y",19).attr("font-size",12).attr("fill","#4c525e")
  .text("MiiniiD a publié sur TradingView.com, Mars 06, 2023 06:53 UTC+1");

// Frame
svg.append("rect").attr("x",9.5).attr("y",27.5).attr("width",3334).attr("height",1177).attr("fill","none").attr("stroke","#f0f3fa").attr("stroke-width",3);
svg.append("line").attr("x1",11).attr("x2",3342).attr("y1",1177).attr("y2",1177).attr("stroke","#e0e3eb").attr("stroke-width",1.5);

const g=svg.append("g").attr("clip-path","url(#plot)");

// Yellow rectangles (prices and bars)
const rectBars=[[70,344],[360.7,418]];
const rectPrices=[[1.5875,1.40195],[1.4527,1.2988]];
const rectStroke=[["#ffeb3b",4],["#fff176",2]];
g.selectAll("rect.box").data(rectBars).join("rect").attr("class","box")
  .attr("x",d=>x(d[0])).attr("width",d=>x(d[1])-x(d[0]))
  .attr("y",(d,i)=>y(rectPrices[i][0])).attr("height",(d,i)=>y(rectPrices[i][1])-y(rectPrices[i][0]))
  .attr("fill","none").attr("stroke",(d,i)=>rectStroke[i][0]).attr("stroke-width",(d,i)=>rectStroke[i][1]);

// Cloud
const line=d3.line().x(d=>x(d[0])).y(d=>y(d[1]));
const closedCloud=spanA.concat(spanB.slice().reverse());
g.append("path").attr("d",line(closedCloud)+"Z").attr("fill","rgba(33,100,232,0.105)").attr("stroke","none");

// Level lines
g.selectAll("line.level").data(levelPrice).join("line").attr("class","level")
  .attr("x1",(d,i)=>x(levelStart[i])).attr("x2",3278).attr("y1",d=>y(d)).attr("y2",d=>y(d))
  .attr("stroke",(d,i)=>C[levelKind[i]]).attr("stroke-width",2).attr("stroke-dasharray","2 3.4");

// Ichimoku lines
const series=[[tenkan,"#2962ff",1],[kijun,"#f23645",3.8],[chikou.map((v,i)=>[i,v]),"#801922",2],[spanA,"#ff9800",1],[spanB,"#c2185b",3.8]];
g.selectAll("path.ich").data(series).join("path").attr("class","ich")
  .attr("d",d=>line(d[0])).attr("fill","none").attr("stroke",d=>d[1]).attr("stroke-width",d=>d[2]).attr("stroke-linejoin","round").attr("stroke-opacity",d=>d[2]>1?1:0.9);

// Last price line
g.append("line").attr("x1",11).attr("x2",3278).attr("y1",y(1.4476)+0.5).attr("y2",y(1.4476)+0.5)
  .attr("stroke","#000").attr("stroke-width",1).attr("stroke-dasharray","1 2");

// Candles
const bars=d3.range(opens.length);
const cg=g.append("g").attr("shape-rendering","crispEdges");
cg.selectAll("line").data(bars).join("line")
  .attr("x1",i=>Math.floor(x(i))+.5).attr("x2",i=>Math.floor(x(i))+.5)
  .attr("y1",i=>y(highs[i])).attr("y2",i=>y(lows[i])).attr("stroke","#000").attr("stroke-width",1);
cg.selectAll("rect").data(bars).join("rect")
  .attr("x",i=>Math.floor(x(i))-2+.5).attr("width",5)
  .attr("y",i=>y(Math.max(opens[i],closes[i])))
  .attr("height",i=>Math.max(1,Math.abs(y(opens[i])-y(closes[i]))))
  .attr("fill",i=>closes[i]>=opens[i]?"#fff":"#000").attr("stroke","#000").attr("stroke-width",1);

// Drawing tags
g.append("text").attr("x",x(344)-6).attr("y",197).attr("font-size",11).attr("fill","#787b86").text("M");
g.append("text").attr("x",x(418)-6).attr("y",542).attr("font-size",12).attr("fill","#787b86").text("H");

// Level names
svg.selectAll("text.lvl").data(levelPrice).join("text").attr("class","lvl")
  .attr("x",3273).attr("y",d=>y(d)-6).attr("text-anchor","end").attr("font-size",12)
  .attr("fill",(d,i)=>levelKind[i]==="b"?"#d0487f":"#f5586a").text((d,i)=>levelName[i]);

// Price axis
svg.append("text").attr("x",3290).attr("y",44).attr("font-size",11.5).attr("fill","#4a4d57").text("CAD");
svg.selectAll("text.pt").data(priceTicks).join("text").attr("class","pt")
  .attr("x",3332).attr("y",d=>y(d)+4).attr("text-anchor","end").attr("font-size",11.5).attr("fill","#4a4d57").text(d=>d.toFixed(5));

// Stack of price boxes
const bg=svg.append("g");
bg.selectAll("rect").data(boxPrices).join("rect")
  .attr("x",3280).attr("width",59).attr("height",17).attr("rx",1)
  .attr("y",d=>y(d)-8.5).attr("fill",(d,i)=>C[boxKinds[i]]);
bg.selectAll("text").data(boxPrices).join("text")
  .attr("x",3332).attr("y",d=>y(d)+4.5).attr("text-anchor","end").attr("font-size",11.5).attr("font-weight",700).attr("fill","#fff")
  .text((d,i)=>boxValues[i]);
bg.append("rect").attr("x",3280).attr("y",553).attr("width",59).attr("height",31).attr("fill","#000");
bg.append("text").attr("x",3332).attr("y",566).attr("text-anchor","end").attr("font-size",11.5).attr("font-weight",700).attr("fill","#fff").text("1.44760");
bg.append("text").attr("x",3289).attr("y",580).attr("font-size",11).attr("fill","#c8c8c8").text("4d 17h");

// Time axis
svg.selectAll("text.tt").data(timeTickBars).join("text").attr("class","tt")
  .attr("x",d=>x(d)).attr("y",1195).attr("text-anchor","middle").attr("font-size",11.5)
  .attr("font-weight",(d,i)=>/^\d/.test(timeTickLabels[i])?700:400)
  .attr("fill",(d,i)=>/^\d/.test(timeTickLabels[i])?"#131722":"#4a4d57")
  .text((d,i)=>timeTickLabels[i]);

// Legend
legend1.forEach(l=>svg.append("text").attr("x",l[1]).attr("y",46).attr("font-size",11.8).attr("fill","#4a4d57").text(l[0]));
legend2.forEach(l=>svg.append("text").attr("x",l[1]).attr("y",63).attr("font-size",11.8).attr("fill",l[2]).text(l[0]));

// Flag marker
const fx=x(388),fy=1164;
const flag=svg.append("g").attr("transform",`translate(${fx},${fy})`);
flag.append("circle").attr("r",6.8).attr("fill","#fff").attr("stroke","#f23645").attr("stroke-width",1.4);
flag.append("rect").attr("x",-4.6).attr("y",-3.5).attr("width",2).attr("height",7).attr("fill","#f23645");
flag.append("rect").attr("x",2.6).attr("y",-3.5).attr("width",2).attr("height",7).attr("fill","#f23645");
flag.append("circle").attr("r",1.6).attr("fill","#d8202f");

// TradingView logo + wordmark
const logo=svg.append("g").attr("transform","translate(10,1218)").attr("fill","#131722");
logo.append("path").attr("d","M0 0H8V9H4V4H0Z");
logo.append("circle").attr("cx",11).attr("cy",2).attr("r",2);
logo.append("path").attr("d","M15 0H20L16 9H11.5Z");
svg.append("text").attr("x",34).attr("y",1227).attr("font-size",12.5).attr("fill","#4a4d57").text("TradingView");
</script>
</body>
</html>
